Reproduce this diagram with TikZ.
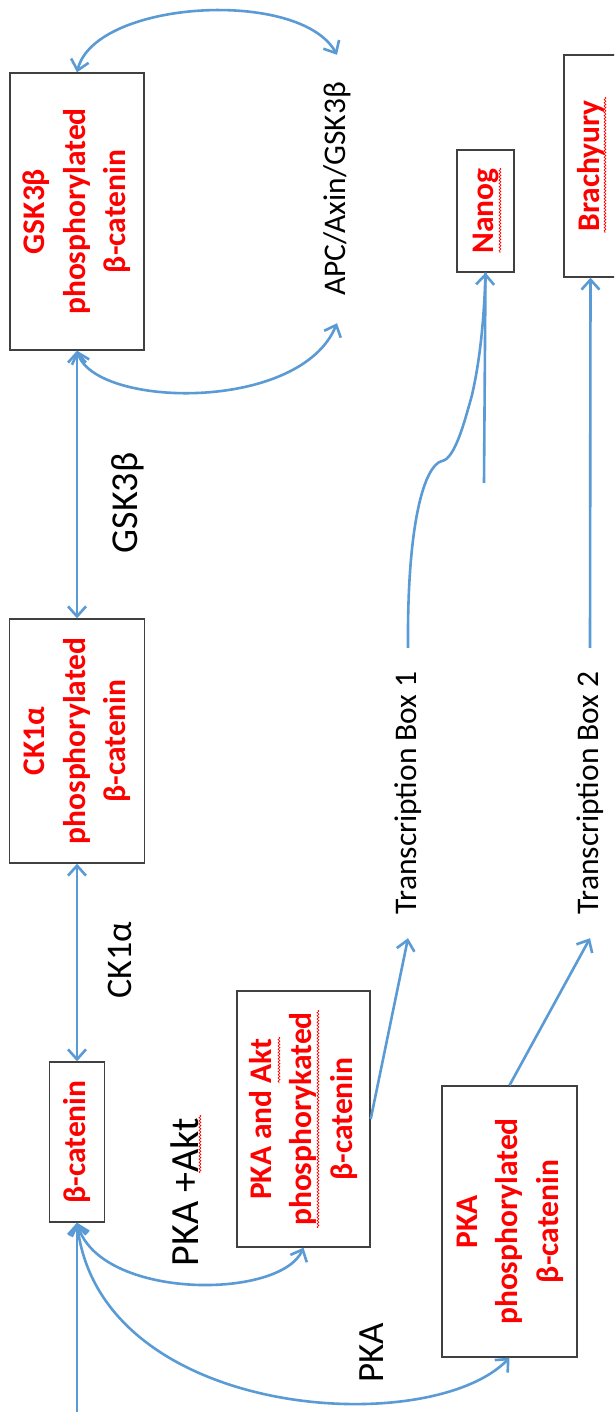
\documentclass[tikz,border=0pt]{standalone}
\usepackage{fontspec}
\setmainfont{Carlito}
\usepackage{graphicx}
\usetikzlibrary{arrows.meta,calc,decorations.pathmorphing}
\definecolor{arrblue}{RGB}{91,155,213}
\definecolor{boxred}{RGB}{255,0,0}
\definecolor{boxline}{RGB}{64,64,64}
\tikzset{
  box/.style={draw=boxline, line width=1.4pt, fill=white, inner sep=0pt,
    font=\bfseries\fontsize{31.5}{40.5}\selectfont, text=boxred},
  lbl/.style={inner sep=0pt, text=black},
  conn/.style={draw=arrblue, line width=2.6pt, >={Straight Barb[length=10pt,width=18pt]}},
  squig/.style={draw=boxred, line width=0.7pt, decorate,
    decoration={snake, amplitude=0.9pt, segment length=3.2pt}},
}
\begin{document}
\begin{tikzpicture}[x=1pt,y=-1pt]
\useasboundingbox (0,0) rectangle (614,1412);
\fill[white] (0,0) rectangle (614,1412);
\clip (0,0) rectangle (614,1412);

% boxes
\node[box, minimum width=134pt, minimum height=277pt] (gsk) at (77,211.5)
  {\rotatebox{90}{\begin{tabular}{@{}c@{}}GSK3β\\phosphorylated\\β-catenin\end{tabular}}};
\node[box, minimum width=135pt, minimum height=244pt] (ck) at (77,741)
  {\rotatebox{90}{\begin{tabular}{@{}c@{}}CK1α\\phosphorylated\\β-catenin\end{tabular}}};
\node[box, minimum width=55pt, minimum height=160pt] (bcat) at (77,1142)
  {\rotatebox{90}{β-catenin}};
\node[box, minimum width=133pt, minimum height=256pt] (pkaakt) at (303.5,1119)
  {\rotatebox{90}{\begin{tabular}{@{}c@{}}PKA and Akt\\phosphorykated\\β-catenin\end{tabular}}};
\node[box, minimum width=135pt, minimum height=271pt] (pka) at (509.5,1221.5)
  {\rotatebox{90}{\begin{tabular}{@{}c@{}}PKA\\phosphorylated\\β-catenin\end{tabular}}};
\node[box, minimum width=57pt, minimum height=122pt] (nanog) at (485.5,211)
  {\rotatebox{90}{Nanog}};
\node[box, minimum width=53pt, minimum height=222pt] (brachy) at (590.5,166)
  {\rotatebox{90}{Brachyury}};

% labels
\node[lbl, font=\fontsize{31.5}{37}\selectfont, minimum height=268pt] (apc) at (337,189)
  {\rotatebox{90}{APC/Axin/GSK3β}};
\node[lbl, font=\fontsize{38}{44}\selectfont] (lgsk) at (128,503) {\rotatebox{90}{GSK3β}};
\node[lbl, font=\fontsize{36}{44}\selectfont] (lck) at (120,960) {\rotatebox{90}{CK1α}};
\node[lbl, font=\fontsize{40}{44}\selectfont] (lpkaakt) at (185,1192) {\rotatebox{90}{PKA +Akt}};
\node[lbl, font=\fontsize{37}{44}\selectfont] (lpka) at (372,1353) {\rotatebox{90}{PKA}};
\node[lbl, font=\fontsize{31.5}{37}\selectfont, minimum height=290pt] (tb1) at (408,793)
  {\rotatebox{90}{Transcription Box 1}};
\node[lbl, font=\fontsize{31.5}{37}\selectfont, minimum height=290pt] (tb2) at (590,793)
  {\rotatebox{90}{Transcription Box 2}};

\coordinate (bottom) at (77,1412);
\coordinate (nstub) at (484,483);

% connectors
\draw[conn,<->] (gsk.north) .. controls (95,0) and (300,-12) .. (apc.north);
\draw[conn,<->] (gsk.south) .. controls (95,408) and (300,413) .. (apc.south);
\draw[conn,<->] (gsk.south) -- (ck.north);
\draw[conn,<->] (ck.south) -- (bcat.north);
\draw[conn,->] (bottom) -- (bcat.south);
\draw[conn,<->] (bcat.south) .. controls (100,1300) and (280,1300) .. (pkaakt.south);
\draw[conn,<->] (bcat.south) .. controls (100,1420) and (430,1440) .. (pka.south);
\draw[conn,->] (pkaakt.east) -- (tb1.south);
\draw[conn,->] (pka.north) -- (tb2.south);
\draw[conn,->] (tb1.north) .. controls (407,520) and (425,465) .. (442,461)
  .. controls (455,459) and (465,420) .. (472,395)
  .. controls (480,360) and (484,320) .. (nanog.south);
\draw[conn] (nstub) -- (nanog.south);
\draw[conn,->] (tb2.north) -- (brachy.south);

% spell-check squiggles
\draw[squig] (500,168) -- (500,253);
\draw[squig] (605,97) -- (605,233);
\draw[squig] (200,1115) -- (200,1173);
\draw[squig] (279,1037) -- (279,1083);
\draw[squig] (318,1010) -- (318,1228);
\end{tikzpicture}
\end{document}
